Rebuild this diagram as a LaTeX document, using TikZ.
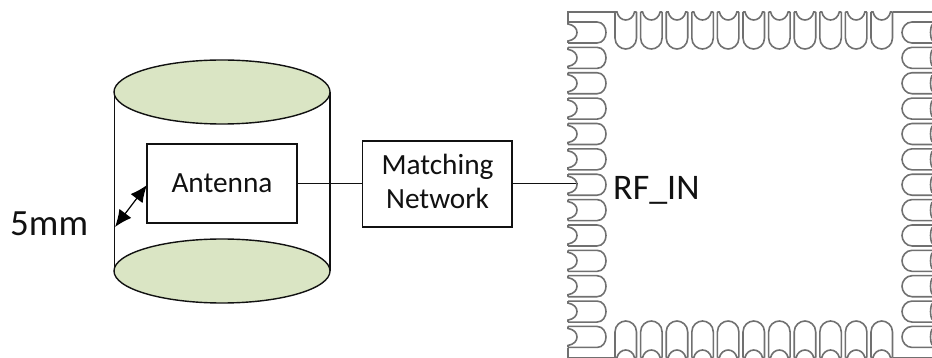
\documentclass[tikz,border=0pt]{standalone}
\usepackage{fontspec}
\setmainfont{Carlito}
\usetikzlibrary{shapes.geometric,arrows.meta}
\definecolor{capgreen}{HTML}{DAE5C4}
\definecolor{padgray}{HTML}{707070}
\definecolor{ink}{HTML}{111111}
\tikzset{
  px/.style={x=1pt,y=-1pt},
  capend/.style={ellipse,draw=ink,fill=capgreen,line width=1.4pt,minimum width=216pt,minimum height=64pt,inner sep=0pt},
  boxnode/.style={rectangle,draw=ink,line width=1.4pt,fill=white,inner sep=0pt,align=center},
  wire/.style={draw=ink,line width=1.4pt},
  padline/.style={draw=padgray,line width=1.6pt},
  lbl/.style={inner sep=0pt,anchor=base west,text=ink},
  boxlbl/.style={inner sep=0pt,anchor=base,text=ink,font=\fontsize{29.3}{34}\selectfont}
}
\begin{document}
\begin{tikzpicture}[px]
\useasboundingbox (0,0) rectangle (932,358);
% cylinder
\draw[wire] (114.5,92) -- (114.5,271) (330,92) -- (330,271);
\node[capend] (captop) at (222,92) {};
\node[capend] (capbot) at (222,271) {};
\node[boxnode,minimum width=150pt,minimum height=79pt] (ant) at (222,183.5) {};
\node[boxlbl] (anttxt) at (222,192.7) {Antenna};
\node[boxnode,minimum width=149.5pt,minimum height=86pt] (match) at (437.2,184) {};
\node[boxlbl] (mt1) at (437.5,175) {Matching};
\node[boxlbl] (mt2) at (437.5,209) {Network};
\coordinate (rfpin) at (578,183.5);
\coordinate (wallpt) at (115,227);
\coordinate (antedge) at (147,185);
\draw[wire] (ant.east |- rfpin) -- (match.west |- rfpin);
\draw[wire] (match.east |- rfpin) -- (rfpin);
\draw[line width=1.2pt,{Latex[length=17pt,width=15pt]}-{Latex[length=17pt,width=15pt]}] (wallpt) -- (antedge);
\node[lbl,font=\fontsize{37}{40}\selectfont] (dim) at (10,236) {5mm};
\node[lbl,font=\fontsize{36}{40}\selectfont] (rf) at (613,200) {RF\_IN};
% QFN package
\begin{scope}[padline]
\draw (568,22) -- (568,12) -- (615,12);
\draw (893,12) -- (932,12);
\draw (568,348) -- (568,357.5) -- (615,357.5);
\draw (893,357.5) -- (932,357.5);
\foreach \n in {0,...,12} {
  \pgfmathsetmacro{\t}{22+25.37*\n}
  \pgfmathsetmacro{\b}{\t+21}
  \pgfmathsetmacro{\m}{\t+10.5}
  % left pad
  \draw (568,\t) -- (597,\t) .. controls (603,\t) and (606,\m-5) .. (606,\m)
        .. controls (606,\m+5) and (603,\b) .. (597,\b) -- (568,\b);
  \draw (568,\t) -- (568,\t+2) .. controls (574,\t+3) and (577,\m-4) .. (577,\m)
        .. controls (577,\m+4) and (574,\b-3) .. (568,\b-2) -- (568,\b);
  % right pad
  \draw (932,\t) -- (912,\t) .. controls (906,\t) and (902,\m-5) .. (902,\m)
        .. controls (902,\m+5) and (906,\b) .. (912,\b) -- (932,\b);
  \draw (932,\m-8) .. controls (930,\m-4) and (930,\m+4) .. (932,\m+8);
}
\foreach \n in {0,...,10} {
  \pgfmathsetmacro{\l}{615+25.6*\n}
  \pgfmathsetmacro{\r}{\l+21.5}
  \pgfmathsetmacro{\m}{\l+10.75}
  % top pad
  \draw (\l,12) -- (\l,38) .. controls (\l,45) and (\m-5,49) .. (\m,49)
        .. controls (\m+5,49) and (\r,45) .. (\r,38) -- (\r,12);
  \draw (\l,12) -- (\l+2,12) .. controls (\l+3,17) and (\m-4,20) .. (\m,20)
        .. controls (\m+4,20) and (\r-3,17) .. (\r-2,12) -- (\r,12);
  % bottom pad
  \draw (\l,357.5) -- (\l,332) .. controls (\l,325) and (\m-5,321) .. (\m,321)
        .. controls (\m+5,321) and (\r,325) .. (\r,332) -- (\r,357.5);
  \draw (\l,357.5) -- (\l+2,357.5) .. controls (\l+3,353) and (\m-4,350) .. (\m,350)
        .. controls (\m+4,350) and (\r-3,353) .. (\r-2,357.5) -- (\r,357.5);
}
\end{scope}
\end{tikzpicture}
\end{document}
